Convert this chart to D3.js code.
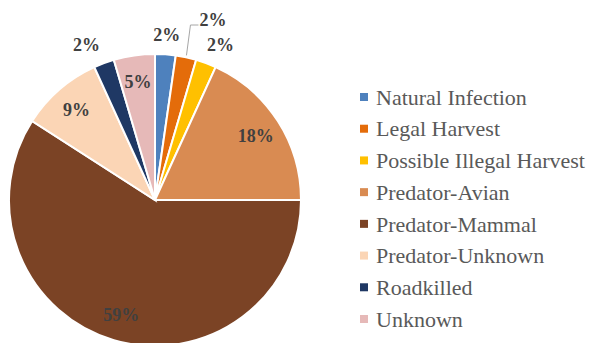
<!DOCTYPE html>
<html>
<head>
<meta charset="utf-8">
<script src="https://cdn.jsdelivr.net/npm/d3@7"></script>
<style>
  body { margin: 0; background: #fff; }
  svg { display: block; }
</style>
</head>
<body>
<div id="chart"></div>
<script>
// causes of mortality (counts read back from the rounded percentages)
const categories = ['Natural Infection', 'Legal Harvest', 'Possible Illegal Harvest', 'Predator-Avian',
                    'Predator-Mammal', 'Predator-Unknown', 'Roadkilled', 'Unknown'];
const counts = [1, 1, 1, 8, 26, 4, 1, 2];
const labels = ['2%', '2%', '2%', '18%', '59%', '9%', '2%', '5%'];
const colors = ['#4e81bd', '#e46c0a', '#ffc000', '#d98b52', '#7b4325', '#fbd5b5', '#1f3864', '#e6b9b8'];
// where each label sits: inside the slice or outside it
const placement = ['out', 'leader', 'out', 'in', 'in', 'in', 'out', 'in'];

const width = 590, height = 343;
const cx = 155, cy = 200, radius = 146;

const svg = d3.select('#chart').append('svg')
  .attr('width', width)
  .attr('height', height);

const pie = d3.pie().sort(null).value(d => d);
const arcs = pie(counts);
const arc = d3.arc().innerRadius(0).outerRadius(radius);

const g = svg.append('g').attr('transform', `translate(${cx}, ${cy})`);

g.selectAll('path.slice')
  .data(arcs)
  .enter().append('path')
  .attr('class', 'slice')
  .attr('d', arc)
  .attr('fill', (d, i) => colors[i])
  .attr('stroke', '#fff')
  .attr('stroke-width', 2);

const inArc = d3.arc().innerRadius(radius * 0.82).outerRadius(radius * 0.82);
const outArc = d3.arc().innerRadius(radius + 20).outerRadius(radius + 20);
const edgeArc = d3.arc().innerRadius(radius + 2).outerRadius(radius + 2);

arcs.forEach((d, i) => {
  const mid = (d.startAngle + d.endAngle) / 2;
  let pos, anchor = 'middle';
  if (placement[i] === 'in') {
    pos = inArc.centroid(d);
  } else if (placement[i] === 'out') {
    pos = outArc.centroid(d);
    anchor = Math.sin(mid) > 0.2 ? 'start' : (Math.sin(mid) < -0.2 ? 'end' : 'middle');
    if (anchor === 'start') pos[0] -= 6;
    if (anchor === 'end') pos[0] += 3;
  } else {
    // leader line: up from the slice edge, then right to the label
    const p0 = edgeArc.centroid(d);
    const yTop = -radius - 29;
    g.append('polyline')
      .attr('points', `${p0[0]},${p0[1]} ${p0[0] + 4},${yTop} ${p0[0] + 12},${yTop}`)
      .attr('fill', 'none')
      .attr('stroke', '#a6a6a6')
      .attr('stroke-width', 1);
    pos = [p0[0] + 13, yTop - 5];
    anchor = 'start';
  }
  g.append('text')
    .attr('x', pos[0])
    .attr('y', pos[1])
    .attr('dy', '0.35em')
    .attr('text-anchor', anchor)
    .attr('font-family', '"Liberation Serif", "Times New Roman", serif')
    .attr('font-weight', 'bold')
    .attr('font-size', '18px')
    .attr('fill', '#404040')
    .text(labels[i]);
});

// legend
const legendY = d3.scalePoint().domain(categories).range([97, 319]);
const legend = svg.append('g');
categories.forEach((c, i) => {
  legend.append('rect')
    .attr('x', 360)
    .attr('y', legendY(c) - 4)
    .attr('width', 8)
    .attr('height', 8)
    .attr('fill', colors[i]);
  legend.append('text')
    .attr('x', 376)
    .attr('y', legendY(c))
    .attr('dy', '0.35em')
    .attr('font-family', '"Liberation Serif", "Times New Roman", serif')
    .attr('font-size', '22px')
    .attr('fill', '#595959')
    .text(c);
});
</script>
</body>
</html>
